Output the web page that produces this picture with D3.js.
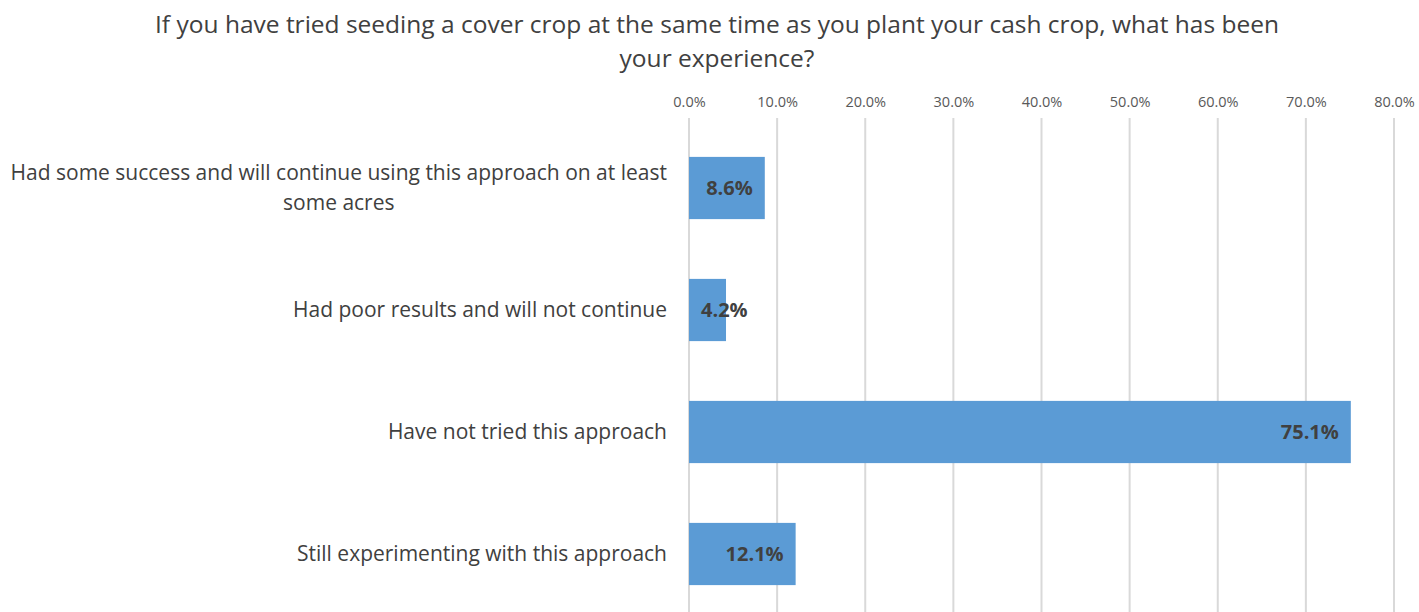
<!DOCTYPE html>
<html><head><meta charset="utf-8">
<script src="https://cdn.jsdelivr.net/npm/d3@7"></script>
<style>body{margin:0;background:#fff;} svg{display:block;font-family:"Open Sans",Carlito,Calibri,sans-serif;}</style>
</head><body>
<svg id="c" width="1419" height="612"></svg>
<script>
const categories = [
  ["Had some success and will continue using this approach on at least", "some acres"],
  ["Had poor results and will not continue"],
  ["Have not tried this approach"],
  ["Still experimenting with this approach"]
];
const values = [8.6, 4.2, 75.1, 12.1];
const tickValues = [0, 10, 20, 30, 40, 50, 60, 70, 80];
const titleLines = ["If you have tried seeding a cover crop at the same time as you plant your cash crop, what has been", "your experience?"];

const svg = d3.select("#c");
const x = d3.scaleLinear().domain([0, 80]).range([689, 1394]);
const y = d3.scaleBand().domain(d3.range(values.length)).range([127, 615]).paddingInner(0.49).paddingOuter(0.245);

const tg = svg.append("g");
titleLines.forEach((t, i) => {
  tg.append("text").attr("x", 717).attr("y", 33 + i * 34)
    .attr("text-anchor", "middle").attr("font-size", 24.5).attr("fill", "#404040").text(t);
});

const axis = d3.axisTop(x).tickValues(tickValues).tickFormat(d => d3.format(".1f")(d) + "%").tickSize(0).tickPadding(0);
const ag = svg.append("g").attr("transform", "translate(0,107)").call(axis);
ag.select(".domain").remove();
ag.selectAll("text").attr("font-size", 14.5).attr("fill", "#595959").attr("font-family", "\"Open Sans\",sans-serif");

svg.append("g").selectAll("line").data(tickValues).join("line")
  .attr("x1", d => x(d)).attr("x2", d => x(d)).attr("y1", 118).attr("y2", 612)
  .attr("stroke", "#d9d9d9").attr("stroke-width", 2);

svg.append("g").selectAll("rect").data(values).join("rect")
  .attr("x", x(0)).attr("y", (d, i) => y(i)).attr("width", d => x(d) - x(0)).attr("height", y.bandwidth())
  .attr("fill", "#5b9bd5");

const lg = svg.append("g");
const labelRight = 667;
categories.forEach((lines, i) => {
  const cy = y(i) + y.bandwidth() / 2;
  const lh = 30;
  const nodes = lines.map((t, j) => lg.append("text")
      .attr("y", cy + (j - (lines.length - 1) / 2) * lh)
      .attr("dy", "0.35em").attr("font-size", 21).attr("fill", "#404040").text(t));
  const maxW = d3.max(nodes, n => n.node().getComputedTextLength());
  nodes.forEach(n => n.attr("x", labelRight - maxW / 2).attr("text-anchor", "middle"));
});

const dl = svg.append("g");
values.forEach((v, i) => {
  const t = dl.append("text").attr("y", y(i) + y.bandwidth() / 2).attr("dy", "0.35em")
    .attr("font-size", 20).attr("font-weight", "bold").attr("fill", "#404040").text(d3.format(".1f")(v) + "%");
  const w = t.node().getComputedTextLength();
  const end = x(v) - 12;
  if (end - w < x(0) + 10) t.attr("x", x(0) + 12).attr("text-anchor", "start");
  else t.attr("x", end).attr("text-anchor", "end");
});
</script>
</body></html>
